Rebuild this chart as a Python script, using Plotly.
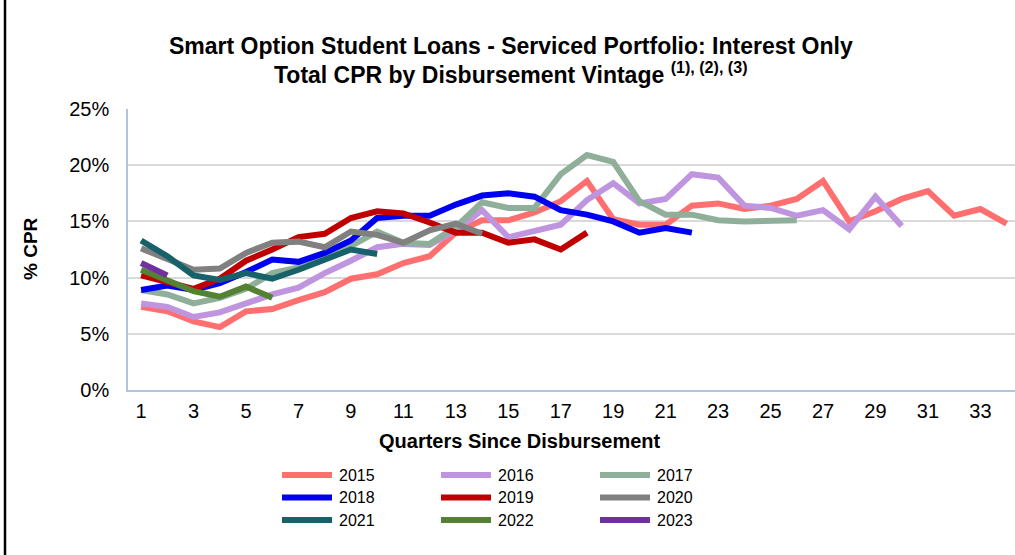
import plotly.graph_objects as go

quarters_tick = list(range(1, 35, 2))
vintages = ["2015", "2016", "2017", "2018", "2019", "2020", "2021", "2022", "2023"]
colors = ["#FF6F6F", "#BF95DF", "#8FAF9A", "#0000F0", "#C00000", "#808080", "#17616A", "#548235", "#7030A0"]

cpr_2015 = [7.4, 7.0, 6.1, 5.6, 7.0, 7.2, 8.0, 8.7, 9.9, 10.3, 11.3, 11.9, 14.0, 15.1, 15.1, 15.8, 16.8,
            18.6, 15.2, 14.7, 14.7, 16.4, 16.6, 16.1, 16.4, 17.0, 18.6, 15.0, 15.9, 17.0, 17.7, 15.5, 16.1, 14.8]
cpr_2016 = [7.7, 7.4, 6.5, 6.9, 7.7, 8.5, 9.1, 10.4, 11.5, 12.7, 13.0, 12.9, 14.2, 16.0, 13.6, 14.2, 14.7,
            16.9, 18.4, 16.6, 17.0, 19.2, 18.9, 16.4, 16.2, 15.5, 16.0, 14.3, 17.2, 14.6]
cpr_2017 = [8.9, 8.5, 7.7, 8.2, 9.0, 10.4, 10.9, 11.9, 12.8, 14.1, 13.1, 13.0, 14.5, 16.7, 16.2, 16.2, 19.2,
            20.9, 20.3, 16.8, 15.6, 15.6, 15.1, 15.0, 15.1, 15.1]
cpr_2018 = [8.9, 9.3, 8.9, 9.5, 10.5, 11.6, 11.4, 12.2, 13.3, 15.3, 15.5, 15.5, 16.5, 17.3, 17.5, 17.2, 16.0,
            15.6, 15.0, 14.0, 14.4, 14.0]
cpr_2019 = [10.2, 9.6, 9.0, 9.9, 11.5, 12.5, 13.6, 13.9, 15.3, 15.9, 15.7, 14.9, 14.0, 14.0, 13.1, 13.4, 12.5, 14.0]
cpr_2020 = [12.6, 11.6, 10.7, 10.8, 12.2, 13.1, 13.2, 12.7, 14.1, 13.8, 13.1, 14.2, 14.8, 13.9]
cpr_2021 = [13.3, 11.9, 10.2, 9.8, 10.4, 9.9, 10.7, 11.6, 12.5, 12.1]
cpr_2022 = [10.7, 9.8, 8.8, 8.3, 9.2, 8.2]
cpr_2023 = [11.3, 10.2]

series = [cpr_2015, cpr_2016, cpr_2017, cpr_2018, cpr_2019, cpr_2020, cpr_2021, cpr_2022, cpr_2023]

FONT = "Liberation Sans, Arial, sans-serif"

fig = go.Figure()
for name, vals, col in zip(vintages, series, colors):
    fig.add_trace(go.Scatter(
        x=list(range(1, len(vals) + 1)), y=vals, name=name, mode="lines",
        line=dict(color=col, width=6), showlegend=False,
    ))

W, H = 1015, 555
L, R, T, B = 128, 0, 109, 165
pw = W - L - R
ph = H - T - B

def px_x(x):
    return (x - L) / pw

def px_y(y):
    return (H - B - y) / ph

annotations = [
    dict(text="<b>Smart Option Student Loans - Serviced Portfolio: Interest Only</b>",
         x=px_x(511), y=px_y(46), xref="paper", yref="paper", showarrow=False,
         xanchor="center", yanchor="middle", font=dict(size=23, family=FONT)),
    dict(text="<b>Total CPR by Disbursement Vintage <sup>(1), (2), (3)</sup></b>",
         x=px_x(511), y=px_y(73), xref="paper", yref="paper", showarrow=False,
         xanchor="center", yanchor="middle", font=dict(size=23, family=FONT)),
    dict(text="<b>Quarters Since Disbursement</b>",
         x=px_x(520), y=px_y(441), xref="paper", yref="paper", showarrow=False,
         xanchor="center", yanchor="middle", font=dict(size=20, family=FONT)),
    dict(text="<b>% CPR</b>", textangle=-90,
         x=px_x(30), y=px_y(249), xref="paper", yref="paper", showarrow=False,
         xanchor="center", yanchor="middle", font=dict(size=19, family=FONT)),
]
shapes = [
    dict(type="line", xref="paper", yref="paper", x0=px_x(5), x1=px_x(5),
         y0=px_y(0), y1=px_y(H), line=dict(color="black", width=2.5)),
]

# manual legend (3 columns x 3 rows)
for i, (name, col) in enumerate(zip(vintages, colors)):
    r, c = divmod(i, 3)
    ly = 475 + 22.5 * r
    lx0 = 282 + 159 * c
    shapes.append(dict(type="line", xref="paper", yref="paper",
                       x0=px_x(lx0), x1=px_x(lx0 + 50), y0=px_y(ly), y1=px_y(ly),
                       line=dict(color=col, width=6)))
    annotations.append(dict(text=name, x=px_x(lx0 + 55), y=px_y(ly), xref="paper", yref="paper",
                            showarrow=False, xanchor="left", yanchor="middle",
                            font=dict(size=16, family=FONT)))

fig.update_layout(
    width=W, height=H,
    margin=dict(l=L, r=R, t=T, b=B, pad=0, autoexpand=False),
    paper_bgcolor="white", plot_bgcolor="white",
    font=dict(family=FONT, color="black"),
    showlegend=False,
    xaxis=dict(
        range=[0.5, 34.32], tickmode="array", tickvals=quarters_tick,
        ticktext=[str(v) for v in quarters_tick],
        showgrid=False, zeroline=False, showline=True, linecolor="#B4C4DC", linewidth=1.5,
        ticks="", tickfont=dict(size=20, family=FONT), ticklabelstandoff=2,
    ),
    yaxis=dict(
        range=[0, 25], tickvals=[0, 5, 10, 15, 20, 25],
        ticktext=["0%", "5%", "10%", "15%", "20%", "25%"],
        showgrid=True, gridcolor="#D9D9D9", gridwidth=1.5, zeroline=False,
        showline=True, linecolor="#B4C4DC", linewidth=1.5,
        ticks="", tickfont=dict(size=20, family=FONT), ticklabelstandoff=13,
    ),
    annotations=annotations,
    shapes=shapes,
)

fig.write_html("out.html", config={"displayModeBar": False},
               post_script="document.body.style.margin='0';document.body.style.overflow='hidden';")
